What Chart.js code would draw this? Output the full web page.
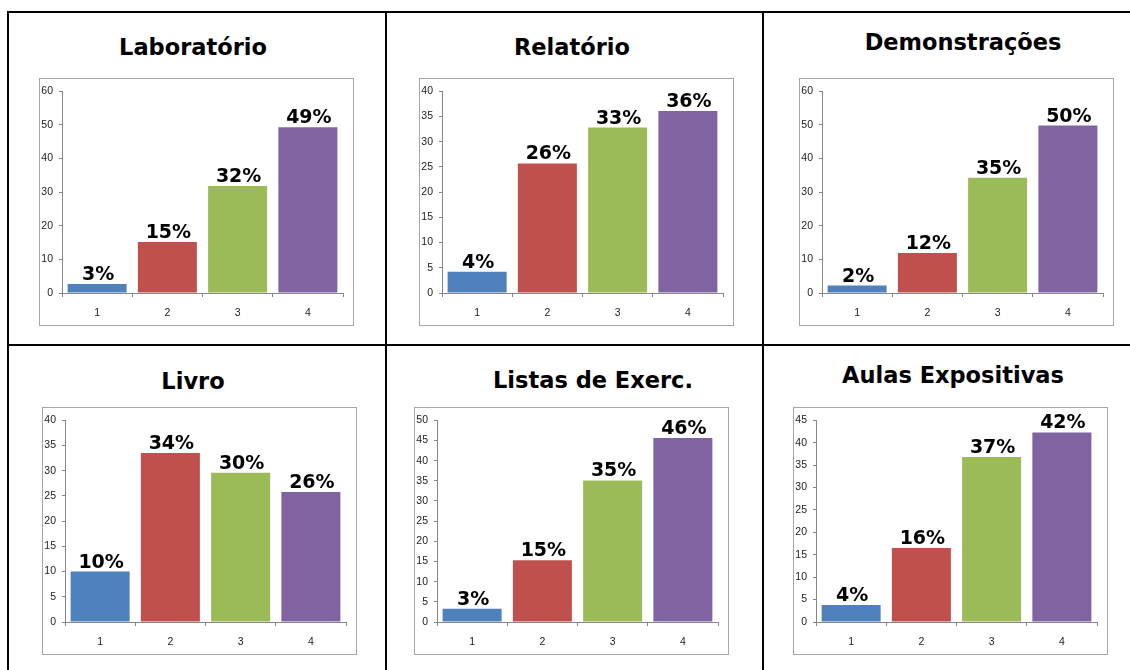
<!DOCTYPE html>
<html>
<head>
<meta charset="utf-8">
<script src="https://cdn.jsdelivr.net/npm/chart.js@4.4.1/dist/chart.umd.min.js"></script>
<style>
  html, body { margin: 0; padding: 0; background: #fff; }
  body { width: 1130px; height: 670px; position: relative; overflow: hidden; }
  .rule { position: absolute; background: #000; }
  .title {
    position: absolute; width: 400px; text-align: center;
    font: bold 22.5px "DejaVu Sans", sans-serif; line-height: 22.5px; color: #000;
    white-space: nowrap;
  }
  .box { position: absolute; border: 1px solid #a6a6a6; width: 313px; height: 246px; }
  .box canvas { display: block; }
</style>
</head>
<body>

<div class="rule" style="left:7px;top:11px;width:1200px;height:2px"></div>
<div class="rule" style="left:7px;top:344px;width:1200px;height:2px"></div>
<div class="rule" style="left:7px;top:11px;width:2px;height:700px"></div>
<div class="rule" style="left:385px;top:11px;width:2px;height:700px"></div>
<div class="rule" style="left:762px;top:11px;width:2px;height:700px"></div>

<script>
// ===================== Data ===================

const categories = ['1', '2', '3', '4'];

const titles = ['Laboratório', 'Relatório', 'Demonstrações', 'Livro', 'Listas de Exerc.', 'Aulas Expositivas'];

const laboratorio = [2.7, 15.2, 31.8, 49.3];
const relatorio = [4.2, 25.7, 32.8, 36.1];
const demonstracoes = [2.2, 11.9, 34.3, 49.8];
const livro = [10.0, 33.5, 29.6, 25.8];
const listas = [3.3, 15.3, 35.1, 45.6];
const aulas = [3.8, 16.5, 36.8, 42.3];

const laboratorioLabels = ['3%', '15%', '32%', '49%'];
const relatorioLabels = ['4%', '26%', '33%', '36%'];
const demonstracoesLabels = ['2%', '12%', '35%', '50%'];
const livroLabels = ['10%', '34%', '30%', '26%'];
const listasLabels = ['3%', '15%', '35%', '46%'];
const aulasLabels = ['4%', '16%', '37%', '42%'];

const yMax = [60, 40, 60, 40, 50, 45];
const yStep = [10, 5, 10, 5, 5, 5];

// ===================== Layout ===================

const barColors = ['#4f81bd', '#c0504d', '#9bbb59', '#8064a2'];

// box left/top, title centre x and baseline y
const panels = [
  { box: [39, 78], title: [193, 55] },
  { box: [419, 78], title: [572, 55] },
  { box: [799, 78], title: [963, 50] },
  { box: [42, 407], title: [193, 389] },
  { box: [414, 407], title: [593, 388] },
  { box: [793, 407], title: [953, 383] }
];

const seriesList = [laboratorio, relatorio, demonstracoes, livro, listas, aulas];
const labelList = [laboratorioLabels, relatorioLabels, demonstracoesLabels, livroLabels, listasLabels, aulasLabels];

const tickFont = { family: "'Liberation Sans Narrow', 'Liberation Sans', Arial, sans-serif", size: 10.5 };

// percent labels above each bar
const barLabels = {
  id: 'barLabels',
  afterDatasetsDraw(chart, args, opts) {
    const ctx = chart.ctx;
    const meta = chart.getDatasetMeta(0);
    ctx.save();
    ctx.font = 'bold 19px "DejaVu Sans", sans-serif';
    ctx.fillStyle = '#000';
    ctx.textAlign = 'center';
    ctx.textBaseline = 'alphabetic';
    meta.data.forEach((bar, i) => {
      ctx.fillText(opts.texts[i], bar.x + 1, bar.y - 4);
    });
    ctx.restore();
  }
};

function makePanel(i) {
  const p = panels[i];

  const title = document.createElement('div');
  title.className = 'title';
  title.textContent = titles[i];
  title.style.left = (p.title[0] - 200) + 'px';
  title.style.top = (p.title[1] - 19) + 'px';
  document.body.appendChild(title);

  const box = document.createElement('div');
  box.className = 'box';
  box.style.left = p.box[0] + 'px';
  box.style.top = p.box[1] + 'px';
  const canvas = document.createElement('canvas');
  canvas.width = 313;
  canvas.height = 246;
  canvas.style.width = '313px';
  canvas.style.height = '246px';
  box.appendChild(canvas);
  document.body.appendChild(box);

  new Chart(canvas, {
    type: 'bar',
    data: {
      labels: categories,
      datasets: [{
        data: seriesList[i],
        backgroundColor: barColors,
        borderWidth: 0,
        barPercentage: 0.84,
        categoryPercentage: 1
      }]
    },
    plugins: [barLabels],
    options: {
      responsive: false,
      animation: false,
      devicePixelRatio: 1,
      layout: { padding: { top: 12, right: 10, left: 0, bottom: 0 } },
      plugins: {
        legend: { display: false },
        tooltip: { enabled: false },
        barLabels: { texts: labelList[i] }
      },
      scales: {
        x: {
          grid: { drawOnChartArea: false, drawTicks: true, tickLength: 4, color: '#868686', offset: true },
          border: { color: '#868686' },
          ticks: { font: tickFont, color: '#222', padding: 10 },
          afterFit(scale) { scale.height = 32; }
        },
        y: {
          min: 0,
          max: yMax[i],
          grid: { drawOnChartArea: false, drawTicks: true, tickLength: 3, color: '#868686' },
          border: { color: '#868686' },
          ticks: { stepSize: yStep[i], font: tickFont, color: '#222', padding: 6 },
          afterFit(scale) { scale.width = 22; }
        }
      }
    }
  });
}

document.addEventListener('DOMContentLoaded', () => {
  for (let i = 0; i < panels.length; i++) makePanel(i);
});
</script>
</body>
</html>
